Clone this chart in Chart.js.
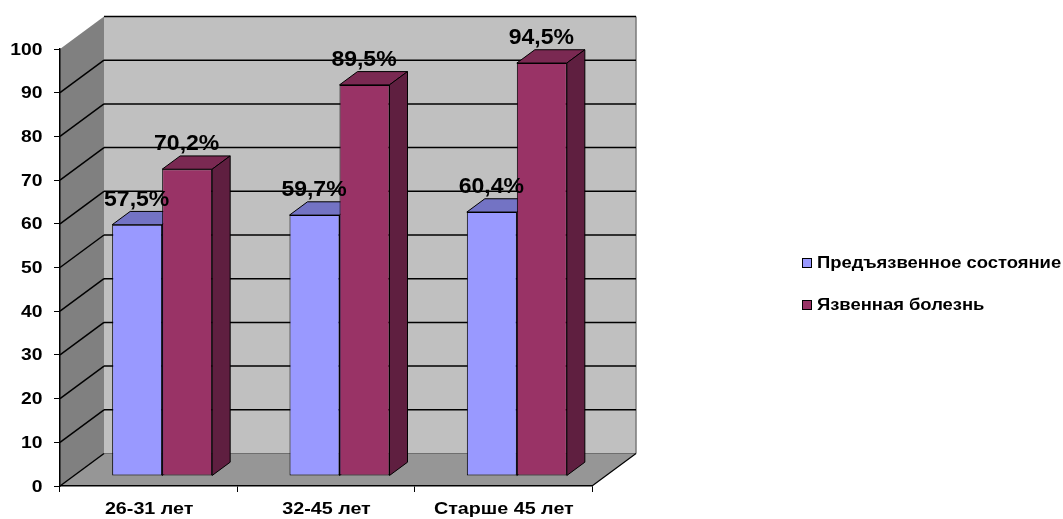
<!DOCTYPE html>
<html>
<head>
<meta charset="utf-8">
<script src="https://cdn.jsdelivr.net/npm/chart.js@4/dist/chart.umd.min.js"></script>
<style>
  html, body { margin: 0; padding: 0; background: #ffffff; }
  #wrap { width: 1063px; height: 519px; }
</style>
</head>
<body>
<div id="wrap"><canvas id="chart" width="1063" height="519"></canvas></div>
<script>
// Age groups and the share of patients (%) in each group
const categories = ['26-31 лет', '32-45 лет', 'Старше 45 лет'];
const seriesNames = ['Предъязвенное состояние', 'Язвенная болезнь'];
const preUlcerValues = [57.5, 59.7, 60.4];
const ulcerValues = [70.2, 89.5, 94.5];

// Face colours: front, top, side
const seriesColors = [
  { front: '#9999FF', top: '#7373C4', side: '#5C5C99' },
  { front: '#993366', top: '#7A2952', side: '#5F1F40' }
];

const FONT = '"Liberation Sans", Arial, sans-serif';

// Pseudo-3D geometry (pixels)
const WALL_DEPTH = { dx: 44, dy: -32.5 };   // depth of side wall / floor
const BAR_SHIFT = { dx: 13.5, dy: -10 };    // bars sit a little behind the front plane
const BAR_DEPTH = { dx: 18, dy: -13.3 };    // thickness of each bar

// Text styles: size in px and horizontal stretch of the glyphs
const TEXT = {
  yTick: { size: 16.5, sx: 1.17 },
  xTick: { size: 17, sx: 1.16 },
  value: { size: 21.5, sx: 1.07 },
  legend: { size: 16, sx: 1.15 }
};

function fmt(v) {
  return v.toFixed(1).replace('.', ',') + '%';
}

function drawText(ctx, str, x, y, align, style) {
  ctx.save();
  ctx.font = 'bold ' + style.size + 'px ' + FONT;
  ctx.fillStyle = '#000';
  ctx.textAlign = align;
  ctx.textBaseline = 'middle';
  ctx.translate(x, y);
  ctx.scale(style.sx, 1);
  ctx.fillText(str, 0, 0);
  ctx.restore();
}

function poly(ctx, pts, fill, stroke, lw) {
  ctx.beginPath();
  ctx.moveTo(pts[0][0], pts[0][1]);
  for (let i = 1; i < pts.length; i++) ctx.lineTo(pts[i][0], pts[i][1]);
  ctx.closePath();
  if (fill) { ctx.fillStyle = fill; ctx.fill(); }
  if (stroke) { ctx.strokeStyle = stroke; ctx.lineWidth = lw || 1; ctx.stroke(); }
}

function line(ctx, x1, y1, x2, y2, color, lw) {
  ctx.beginPath();
  ctx.moveTo(x1, y1);
  ctx.lineTo(x2, y2);
  ctx.strokeStyle = color;
  ctx.lineWidth = lw;
  ctx.stroke();
}

const box3d = {
  id: 'box3d',
  beforeDraw(chart) {
    const ctx = chart.ctx;
    const { left: L, right: R } = chart.chartArea;
    const y = chart.scales.y;
    const yTop = y.getPixelForValue(y.max);
    const y0 = y.getPixelForValue(0);
    const dx = WALL_DEPTH.dx, dy = WALL_DEPTH.dy;
    ctx.save();
    ctx.lineJoin = 'round';
    // side wall
    poly(ctx, [[L, yTop], [L + dx, yTop + dy], [L + dx, y0 + dy], [L, y0]], '#808080');
    // back wall
    poly(ctx, [[L + dx, yTop + dy], [R + dx, yTop + dy], [R + dx, y0 + dy], [L + dx, y0 + dy]], '#C0C0C0');
    // floor
    poly(ctx, [[L, y0], [R, y0], [R + dx, y0 + dy], [L + dx, y0 + dy]], '#969696');
    // back wall right edge and floor/back boundary
    line(ctx, R + dx, yTop + dy, R + dx, y0 + dy, '#7A7A7A', 1.5);
    line(ctx, L + dx, y0 + dy, R + dx, y0 + dy, '#6E6E6E', 1);
    // floor edges
    line(ctx, R, y0, R + dx, y0 + dy, '#000', 1.2);
    line(ctx, L, y0, L + dx, y0 + dy, '#000', 1.5);
    // gridlines along side wall and back wall
    y.ticks.forEach(t => {
      const v = t.value;
      if (v === 0) return;
      const py = y.getPixelForValue(v);
      if (v !== y.max) line(ctx, L, py, L + dx, py + dy, '#000', 1.5);
      line(ctx, L + dx, py + dy, R + dx, py + dy, '#000', 1.5);
    });
    ctx.restore();
  },
  beforeDatasetDraw() {
    // bars are drawn below in category order so that faces overlap correctly
    return false;
  },
  afterDatasetsDraw(chart) {
    const ctx = chart.ctx;
    const metas = chart.data.datasets.map((d, i) => chart.getDatasetMeta(i));
    const n = chart.data.labels.length;
    ctx.save();
    ctx.translate(BAR_SHIFT.dx, BAR_SHIFT.dy);
    ctx.lineJoin = 'round';
    for (let i = 0; i < n; i++) {
      metas.forEach((meta, d) => {
        const bar = meta.data[i];
        const c = seriesColors[d];
        const xl = bar.x - bar.width / 2, xr = bar.x + bar.width / 2;
        const yt = bar.y, yb = bar.base;
        const bx = BAR_DEPTH.dx, by = BAR_DEPTH.dy;
        bar.draw(ctx);
        poly(ctx, [[xl, yt], [xl + bx, yt + by], [xr + bx, yt + by], [xr, yt]], c.top, '#000', 1);
        poly(ctx, [[xr, yt], [xr + bx, yt + by], [xr + bx, yb + by], [xr, yb]], c.side, '#000', 1);
      });
    }
    ctx.restore();

    // value labels
    metas.forEach((meta, d) => {
      const values = chart.data.datasets[d].data;
      meta.data.forEach((bar, i) => {
        drawText(ctx, fmt(values[i]), bar.x + BAR_SHIFT.dx - 0.5, bar.y + BAR_SHIFT.dy - 25, 'center', TEXT.value);
      });
    });
  },
  afterDraw(chart) {
    const ctx = chart.ctx;
    const xs = chart.scales.x, ys = chart.scales.y;
    // axis tick labels
    ys.ticks.forEach((t, i) => {
      drawText(ctx, String(t.value), 42.5, ys.getPixelForTick(i) + 1, 'right', TEXT.yTick);
    });
    xs.ticks.forEach((t, i) => {
      drawText(ctx, chart.data.labels[i], xs.getPixelForTick(i) + 0.5, 509, 'center', TEXT.xTick);
    });
    // legend
    const rows = [263, 305];
    chart.data.datasets.forEach((ds, d) => {
      const cy = rows[d];
      ctx.save();
      ctx.fillStyle = ds.backgroundColor;
      ctx.fillRect(802.5, cy - 4.5, 9, 9);
      ctx.strokeStyle = '#000';
      ctx.lineWidth = 1;
      ctx.strokeRect(802.5, cy - 4.5, 9, 9);
      ctx.restore();
      drawText(ctx, ds.label, 817, cy + 1, 'left', TEXT.legend);
    });
  }
};

const datasets = [preUlcerValues, ulcerValues].map((vals, i) => ({
  label: seriesNames[i],
  data: vals,
  backgroundColor: seriesColors[i].front,
  borderColor: '#000',
  borderWidth: 1,
  borderSkipped: false,
  categoryPercentage: 100 / 177.33,
  barPercentage: 1.0,
  clip: false
}));

new Chart(document.getElementById('chart'), {
  type: 'bar',
  data: { labels: categories, datasets },
  options: {
    responsive: false,
    animation: false,
    layout: { padding: { top: 49, right: 471, left: 0, bottom: 0 } },
    plugins: {
      legend: { display: false },
      tooltip: { enabled: false }
    },
    scales: {
      x: {
        offset: true,
        grid: { offset: true, drawOnChartArea: false, tickLength: 6, color: '#000', lineWidth: 1 },
        border: { color: '#000', width: 1.5 },
        ticks: { display: false },
        afterFit(scale) { scale.height = 33; }
      },
      y: {
        min: 0,
        max: 100,
        ticks: { stepSize: 10, display: false },
        grid: { drawOnChartArea: false, tickLength: 6, color: '#000', lineWidth: 1 },
        border: { color: '#000', width: 1.5 },
        afterFit(scale) { scale.width = 60; }
      }
    }
  },
  plugins: [box3d]
});
</script>
</body>
</html>
